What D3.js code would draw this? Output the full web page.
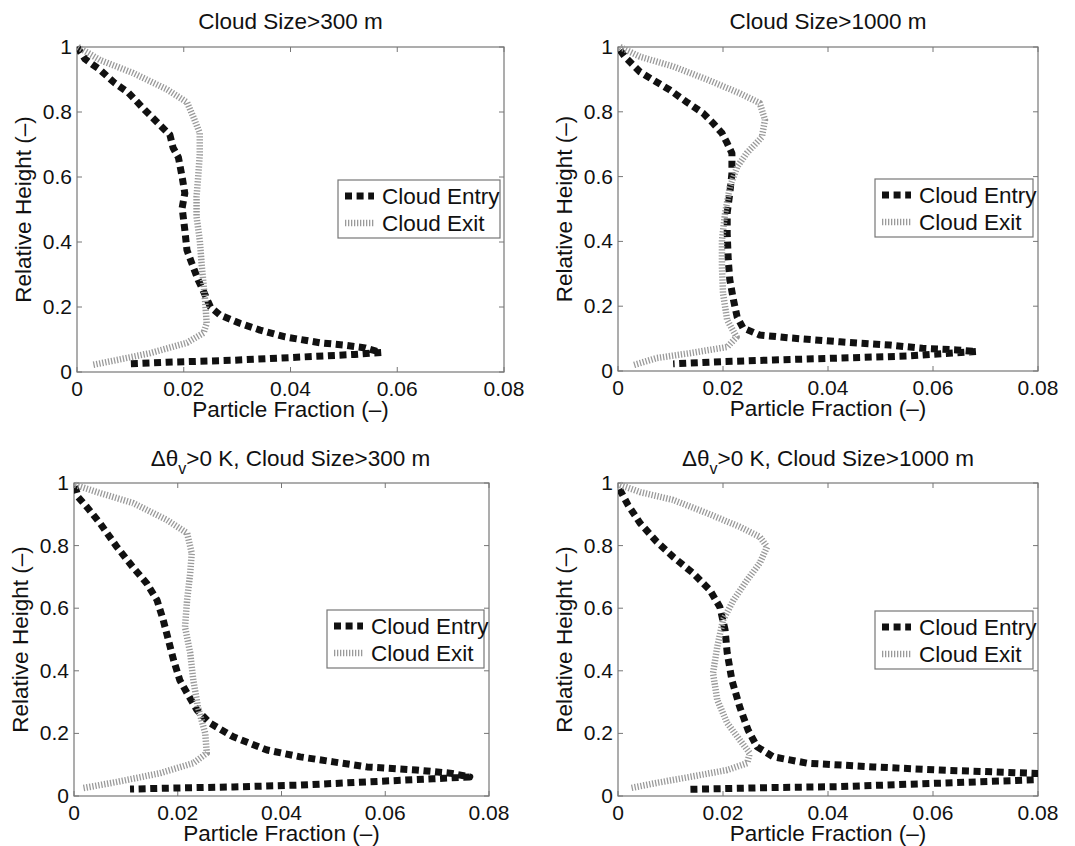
<!DOCTYPE html>
<html>
<head>
<meta charset="utf-8">
<script src="https://cdn.jsdelivr.net/npm/d3@7"></script>
<style>
  body { margin: 0; background: #fff; }
  svg { display: block; }
  text { font-family: "Liberation Sans", Arial, sans-serif; fill: #111; }
</style>
</head>
<body>
<div id="chart"></div>
<script>
// tick values shared by all four panels
const xTicks = [0, 0.02, 0.04, 0.06, 0.08];
const yTicks = [0, 0.2, 0.4, 0.6, 0.8, 1];
const seriesNames = ["Cloud Entry", "Cloud Exit"];
const xLabel = "Particle Fraction (\u2013)";
const yLabel = "Relative Height (\u2013)";
const sizeLabels = ["300 m", "1000 m", "300 m", "1000 m"];

// [particle fraction, relative height]
const entry300 = [[0,1],[0.0015,0.963],[0.003,0.945],[0.0043,0.93],[0.007,0.89],[0.0096,0.86],[0.0127,0.806],[0.0159,0.754],[0.0174,0.73],[0.018,0.69],[0.019,0.66],[0.0197,0.6],[0.0202,0.55],[0.0197,0.505],[0.0202,0.437],[0.0206,0.375],[0.0215,0.335],[0.0227,0.283],[0.0236,0.252],[0.025,0.2],[0.0268,0.175],[0.0305,0.15],[0.0343,0.129],[0.039,0.108],[0.0455,0.09],[0.05,0.083],[0.054,0.074],[0.057,0.06],[0.052,0.054],[0.042,0.046],[0.029,0.036],[0.0168,0.03],[0.0093,0.025]];
const exit300 = [[0.0002,1],[0.0043,0.96],[0.0105,0.92],[0.0168,0.87],[0.0206,0.83],[0.0218,0.785],[0.023,0.735],[0.023,0.67],[0.0227,0.6],[0.0224,0.54],[0.0224,0.477],[0.023,0.406],[0.0234,0.323],[0.024,0.22],[0.0243,0.15],[0.0237,0.12],[0.0206,0.09],[0.0137,0.058],[0.0075,0.037],[0.003,0.022]];

const entry1000 = [[0.0004,0.99],[0.0013,0.97],[0.0042,0.923],[0.0067,0.898],[0.0099,0.867],[0.0131,0.83],[0.0162,0.796],[0.0181,0.765],[0.0198,0.734],[0.0208,0.703],[0.0217,0.672],[0.0217,0.61],[0.0213,0.549],[0.0208,0.488],[0.0208,0.425],[0.021,0.343],[0.0213,0.281],[0.022,0.219],[0.0227,0.167],[0.0238,0.133],[0.027,0.111],[0.0328,0.102],[0.0423,0.09],[0.0518,0.08],[0.058,0.07],[0.0645,0.065],[0.0683,0.06],[0.055,0.046],[0.0423,0.04],[0.0296,0.034],[0.02,0.029],[0.0105,0.022]];
const exit1000 = [[0.0004,1],[0.0042,0.97],[0.0105,0.94],[0.0169,0.9],[0.0232,0.857],[0.027,0.827],[0.028,0.775],[0.0274,0.722],[0.0245,0.672],[0.0227,0.63],[0.0213,0.568],[0.0204,0.487],[0.0198,0.404],[0.0198,0.321],[0.02,0.24],[0.0208,0.157],[0.0226,0.105],[0.0208,0.074],[0.0137,0.055],[0.0074,0.04],[0.0029,0.018]];

const entryPos300 = [[0.0002,0.99],[0.0008,0.955],[0.0025,0.923],[0.005,0.872],[0.0083,0.795],[0.0114,0.73],[0.014,0.68],[0.016,0.626],[0.0172,0.562],[0.0182,0.498],[0.0192,0.434],[0.0204,0.37],[0.0218,0.329],[0.0237,0.275],[0.0262,0.233],[0.0307,0.189],[0.0372,0.147],[0.0436,0.125],[0.05,0.109],[0.0565,0.093],[0.066,0.083],[0.0725,0.073],[0.0763,0.061],[0.0692,0.055],[0.0565,0.045],[0.0436,0.035],[0.0307,0.029],[0.018,0.025],[0.0108,0.022]];
const exitPos300 = [[0.0002,0.994],[0.005,0.968],[0.0114,0.936],[0.0179,0.882],[0.0218,0.84],[0.0227,0.776],[0.0224,0.712],[0.0218,0.626],[0.0214,0.54],[0.0224,0.457],[0.023,0.37],[0.0239,0.284],[0.0253,0.2],[0.0256,0.137],[0.023,0.105],[0.0166,0.073],[0.0083,0.045],[0.0017,0.025]];

const entryPos1000 = [[0.0003,0.98],[0.0019,0.93],[0.0042,0.872],[0.0074,0.812],[0.0105,0.764],[0.0143,0.712],[0.0175,0.658],[0.0194,0.604],[0.0204,0.53],[0.0208,0.457],[0.0217,0.37],[0.0232,0.284],[0.0248,0.21],[0.0265,0.157],[0.0296,0.125],[0.036,0.105],[0.0486,0.093],[0.0613,0.083],[0.08,0.072],[0.09,0.062],[0.08,0.052],[0.0613,0.041],[0.0423,0.03],[0.0296,0.027],[0.0131,0.021]];
const exitPos1000 = [[0.0004,0.994],[0.0042,0.971],[0.0105,0.946],[0.0169,0.904],[0.0232,0.86],[0.027,0.828],[0.0284,0.796],[0.027,0.744],[0.0246,0.69],[0.022,0.626],[0.02,0.562],[0.0189,0.476],[0.0181,0.393],[0.0189,0.307],[0.0208,0.233],[0.0232,0.179],[0.0251,0.137],[0.0246,0.105],[0.0208,0.083],[0.0137,0.061],[0.0074,0.042],[0.0023,0.025]];

const W = 1075, H = 846;

// panel boxes (pixel layout)
const panels = [
  { left: 77,  right: 504,  top: 47,  bottom: 372, theta: false, size: sizeLabels[0], entry: entry300,     exit: exit300,     leg: [338, 180, 162], tdx: 0 },
  { left: 618, right: 1038, top: 47,  bottom: 371, theta: false, size: sizeLabels[1], entry: entry1000,    exit: exit1000,    leg: [875, 179, 158], tdx: 0 },
  { left: 74,  right: 489,  top: 483, bottom: 796, theta: true,  size: sizeLabels[2], entry: entryPos300,  exit: exitPos300,  leg: [327, 610, 157], tdx: 9 },
  { left: 618, right: 1038, top: 483, bottom: 796, theta: true,  size: sizeLabels[3], entry: entryPos1000, exit: exitPos1000, leg: [875, 611, 158], tdx: 0 }
];

const styles = [
  { stroke: "#111", width: 7, dash: "7,4.6" },
  { stroke: "#9a9a9a", width: 6.5, dash: "1.3,1.7" }
];

const svg = d3.select("#chart").append("svg")
  .attr("width", W).attr("height", H);

panels.forEach((p, i) => {
  const x = d3.scaleLinear().domain([0, 0.08]).range([p.left, p.right]);
  const y = d3.scaleLinear().domain([0, 1]).range([p.bottom, p.top]);
  const g = svg.append("g");

  const clipId = "clip" + i;
  svg.append("clipPath").attr("id", clipId)
    .append("rect")
    .attr("x", p.left).attr("y", p.top - 6)
    .attr("width", p.right - p.left).attr("height", p.bottom - p.top + 6);

  // box
  g.append("rect")
    .attr("x", p.left).attr("y", p.top)
    .attr("width", p.right - p.left).attr("height", p.bottom - p.top)
    .attr("fill", "none").attr("stroke", "#777").attr("stroke-width", 1.2);

  // ticks inward on all sides
  const tk = 5;
  xTicks.forEach(t => {
    g.append("line").attr("x1", x(t)).attr("x2", x(t)).attr("y1", p.bottom).attr("y2", p.bottom - tk).attr("stroke", "#777");
    g.append("line").attr("x1", x(t)).attr("x2", x(t)).attr("y1", p.top).attr("y2", p.top + tk).attr("stroke", "#777");
  });
  yTicks.forEach(t => {
    g.append("line").attr("x1", p.left).attr("x2", p.left + tk).attr("y1", y(t)).attr("y2", y(t)).attr("stroke", "#777");
    g.append("line").attr("x1", p.right).attr("x2", p.right - tk).attr("y1", y(t)).attr("y2", y(t)).attr("stroke", "#777");
  });

  g.selectAll(".xt").data(xTicks).enter().append("text")
    .attr("x", d => x(d)).attr("y", p.bottom + 24)
    .attr("text-anchor", "middle").attr("font-size", 21)
    .text(d => String(d));

  g.selectAll(".yt").data(yTicks).enter().append("text")
    .attr("x", p.left - 5).attr("y", d => y(d) + 7)
    .attr("text-anchor", "end").attr("font-size", 21)
    .text(d => String(d));

  // axis labels
  g.append("text")
    .attr("x", (p.left + p.right) / 2).attr("y", p.bottom + 45)
    .attr("text-anchor", "middle").attr("font-size", 22.5)
    .text(xLabel);

  g.append("text")
    .attr("transform", `translate(${p.left - 46},${(p.top + p.bottom) / 2}) rotate(-90)`)
    .attr("text-anchor", "middle").attr("font-size", 22.5)
    .text(yLabel);

  // title
  const title = g.append("text")
    .attr("x", (p.left + p.right) / 2 + p.tdx).attr("y", p.top - 18 + (p.theta ? 1 : 0))
    .attr("text-anchor", "middle").attr("font-size", 22.5);
  if (p.theta) {
    title.append("tspan").text("\u0394\u03b8");
    title.append("tspan").attr("font-size", 16).attr("dy", 8).text("v");
    title.append("tspan").attr("dy", -8).text(">0 K, Cloud Size>" + p.size);
  } else {
    title.text("Cloud Size>" + p.size);
  }

  // curves
  const line = d3.line().x(d => x(d[0])).y(d => y(d[1]));
  [p.entry, p.exit].forEach((data, k) => {
    g.append("path")
      .datum(data)
      .attr("clip-path", `url(#${clipId})`)
      .attr("d", line)
      .attr("fill", "none")
      .attr("stroke", styles[k].stroke)
      .attr("stroke-width", styles[k].width)
      .attr("stroke-dasharray", styles[k].dash)
      .attr("stroke-linejoin", "round");
  });

  // legend
  const [lx, ly, lw] = p.leg;
  const lg = g.append("g");
  lg.append("rect")
    .attr("x", lx).attr("y", ly).attr("width", lw).attr("height", 58)
    .attr("fill", "#fff").attr("stroke", "#777").attr("stroke-width", 1.2);
  seriesNames.forEach((name, k) => {
    const yy = ly + 16 + k * 27;
    lg.append("line")
      .attr("x1", lx + 7).attr("x2", lx + 36)
      .attr("y1", yy).attr("y2", yy)
      .attr("stroke", styles[k].stroke)
      .attr("stroke-width", styles[k].width)
      .attr("stroke-dasharray", styles[k].dash);
    lg.append("text")
      .attr("x", lx + 44).attr("y", yy + 8)
      .attr("font-size", 22.5)
      .text(name);
  });
});
</script>
</body>
</html>
